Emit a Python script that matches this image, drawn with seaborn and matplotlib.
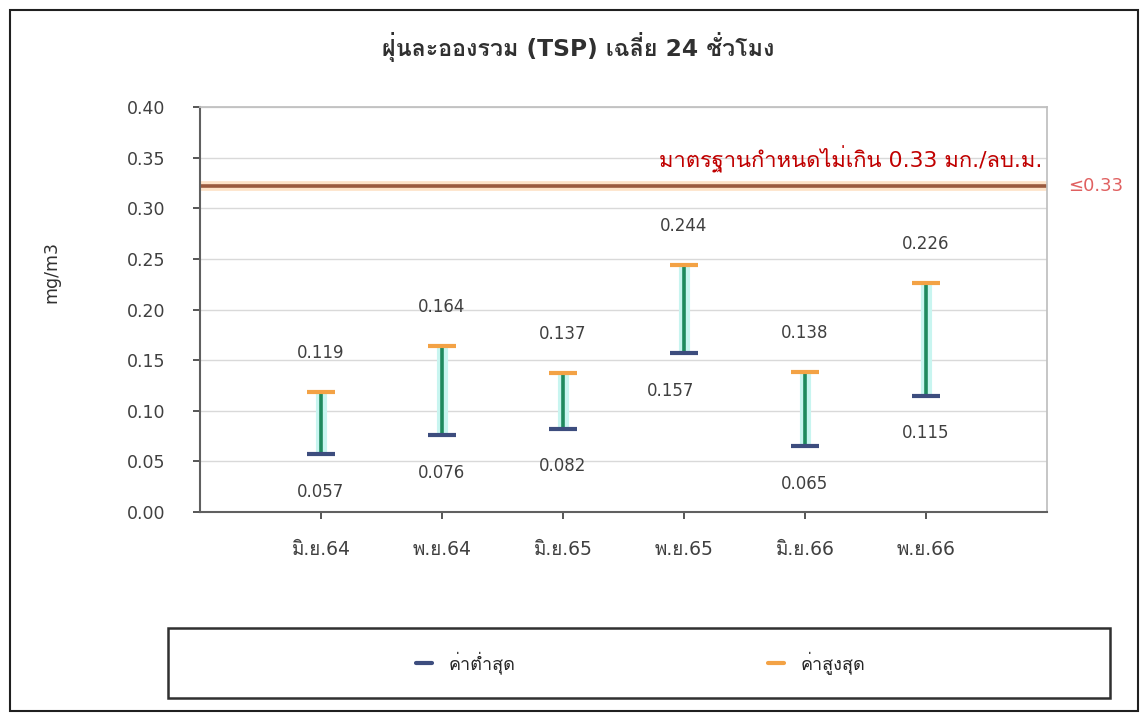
import matplotlib
matplotlib.use("Agg")
import matplotlib.pyplot as plt
import seaborn as sns
import pandas as pd
from matplotlib import font_manager
from matplotlib.ft2font import FT2Font
from matplotlib.lines import Line2D
from matplotlib.patches import Rectangle

# data
months = ["มิ.ย.64", "พ.ย.64", "มิ.ย.65", "พ.ย.65", "มิ.ย.66", "พ.ย.66"]
min_vals = [0.057, 0.076, 0.082, 0.157, 0.065, 0.115]
max_vals = [0.119, 0.164, 0.137, 0.244, 0.138, 0.226]
standard = 0.322
standard_text = "มาตรฐานกำหนดไม่เกิน 0.33 มก./ลบ.ม."
standard_tag = "≤0.33"
title = "ฝุ่นละอองรวม (TSP) เฉลี่ย 24 ชั่วโมง"
legend_labels = ["ค่าต่ำสุด", "ค่าสูงสุด"]


def find_thai_font():
    # look for any installed font that has Thai glyphs
    for f in font_manager.fontManager.ttflist:
        try:
            if ord("ก") in FT2Font(f.fname).get_charmap():
                return f.name
        except Exception:
            pass
    return "DejaVu Sans"


sns.set_theme(style="white")
thai_font = find_thai_font()
plt.rcParams["font.family"] = ["DejaVu Sans", thai_font]

df = pd.DataFrame({"month": months, "min": min_vals, "max": max_vals})

fig = plt.figure(figsize=(11.44, 7.13), dpi=100)
ax = fig.add_axes([0.1748, 0.2819, 0.7404, 0.568])

# range lines with a light glow behind them
ax.vlines(df["month"], df["min"], df["max"], color="#c8f5f0", lw=8, zorder=2)
ax.vlines(df["month"], df["min"], df["max"], color="#1f8a5e", lw=2.6, zorder=3)

sns.scatterplot(data=df, x="month", y="max", marker="_", s=420, linewidth=3,
                color="#f3a245", ax=ax, zorder=4, legend=False)
sns.scatterplot(data=df, x="month", y="min", marker="_", s=420, linewidth=3,
                color="#3d4d7e", ax=ax, zorder=4, legend=False)

for i, row in df.iterrows():
    ax.annotate(f"{row['max']:.3f}", (i, row["max"]), xytext=(0, 28),
                textcoords="offset points", ha="center", va="center",
                fontsize=12, color="#404040")
    dx = -10 if row["month"] == "พ.ย.65" else 0
    ax.annotate(f"{row['min']:.3f}", (i, row["min"]), xytext=(dx, -27),
                textcoords="offset points", ha="center", va="center",
                fontsize=12, color="#404040")

# standard line
ax.axhline(standard, color="#fde3c8", lw=7, zorder=1)
ax.axhline(standard, color="#9a5a3e", lw=2.6, zorder=2)
ax.text(0.995, 0.348, standard_text, transform=ax.get_yaxis_transform(),
        ha="right", va="center", fontsize=15.8, color="#c00000")
ax.text(1.057, standard, standard_tag, transform=ax.get_yaxis_transform(),
        ha="center", va="center", fontsize=13, color="#e06060", clip_on=False)

ax.set_xlim(-1, 6)
ax.set_ylim(0, 0.40)
ax.set_yticks([0.0, 0.05, 0.10, 0.15, 0.20, 0.25, 0.30, 0.35, 0.40])
ax.set_yticklabels([f"{v:.2f}" for v in ax.get_yticks()])
ax.yaxis.grid(True, color="#d9d9d9", lw=1)
ax.set_axisbelow(True)
ax.tick_params(axis="both", colors="#404040", length=5,
               direction="out", bottom=True, left=True)
ax.tick_params(axis="x", pad=15, labelsize=13.5)
ax.tick_params(axis="y", pad=20, labelsize=12.5)
ax.set_xlabel("")
ax.set_ylabel("mg/m3", fontsize=12.5, color="#303030")
ax.yaxis.set_label_coords(-0.165, 0.593)

for side in ["top", "right"]:
    ax.spines[side].set_color("#bfbfbf")
for side in ["left", "bottom"]:
    ax.spines[side].set_color("#606060")
    ax.spines[side].set_linewidth(1.5)

fig.suptitle(title, x=0.505, y=0.934, va="center", fontsize=16.8,
             fontweight="bold", color="#303030")

# legend in its own box
handles = [Line2D([], [], color="#3d4d7e", lw=3),
           Line2D([], [], color="#f3a245", lw=3)]
fig.legend(handles, legend_labels, loc="center", bbox_to_anchor=(0.56, 0.07),
           ncol=2, frameon=False, handlelength=0.9, handletextpad=0.9,
           columnspacing=14, fontsize=13)
fig.add_artist(Rectangle((168 / 1144, 1 - 698 / 713), 942 / 1144, 70 / 713,
                         transform=fig.transFigure, fill=False,
                         edgecolor="#303030", lw=1.8))

# outer chart border
fig.add_artist(Rectangle((10 / 1144, 0.003), 1128 / 1144, 0.983,
                         transform=fig.transFigure, fill=False,
                         edgecolor="#202020", lw=1.5))

plt.savefig("out.png", dpi=100)
